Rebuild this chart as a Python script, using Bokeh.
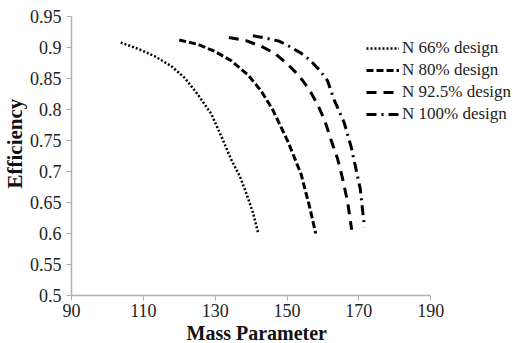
from bokeh.plotting import figure
from bokeh.models import FixedTicker, Legend, LegendItem, Range1d, Title
from bokeh.embed import file_html
from bokeh.resources import INLINE

# Data
series_names = ["N 66% design", "N 80% design", "N 92.5% design", "N 100% design"]

n66_x = [103.7, 108.5, 113.1, 117.8, 121.5, 125.2, 128.9, 131.7, 134.4, 136.8, 138.6, 140.5, 142.0]
n66_y = [0.908, 0.898, 0.886, 0.870, 0.851, 0.824, 0.793, 0.757, 0.720, 0.693, 0.666, 0.634, 0.600]

n80_x = [120.0, 125.2, 129.8, 134.4, 139.1, 142.8, 146.0, 150.2, 153.9, 156.2, 158.0]
n80_y = [0.912, 0.905, 0.894, 0.879, 0.856, 0.830, 0.800, 0.749, 0.696, 0.645, 0.600]

n925_x = [133.8, 138.6, 142.8, 146.5, 150.2, 153.4, 156.2, 158.5, 160.4, 162.2, 164.1, 165.5, 166.9, 168.0]
n925_y = [0.916, 0.911, 0.902, 0.891, 0.873, 0.854, 0.832, 0.808, 0.784, 0.752, 0.720, 0.688, 0.650, 0.606]

n100_x = [140.5, 144.2, 147.9, 150.6, 153.9, 156.5, 159.0, 161.3, 163.1, 165.9, 167.8, 169.2, 170.4, 171.1, 171.6]
n100_y = [0.919, 0.915, 0.910, 0.902, 0.891, 0.879, 0.864, 0.846, 0.816, 0.779, 0.741, 0.704, 0.672, 0.634, 0.610]

x_ticks = [90, 110, 130, 150, 170, 190]
y_ticks = [0.5, 0.55, 0.6, 0.65, 0.7, 0.75, 0.8, 0.85, 0.9, 0.95]
y_tick_labels = ["0.5", "0.55", "0.6", "0.65", "0.7", "0.75", "0.8", "0.85", "0.9", "0.95"]
x_title = "Mass Parameter"
y_title = "Efficiency"

FONT = "Liberation Serif"
X_MIN, X_MAX = 90, 190
PX_PER_UNIT = 3.6  # horizontal scale; frame is extended right to host the legend

p = figure(width=513, height=343, output_backend="svg", toolbar_location=None,
           x_range=Range1d(X_MIN, X_MIN + 443 / PX_PER_UNIT), y_range=Range1d(0.5, 0.95),
           min_border_left=70, min_border_right=0, min_border_top=16, min_border_bottom=46)
p.outline_line_color = None
p.xgrid.grid_line_color = None
p.ygrid.grid_line_color = None
p.background_fill_color = "white"
p.border_fill_color = "white"

styles = [
    dict(line_dash="2 2", line_width=2.5),
    dict(line_dash="7 3", line_width=3),
    dict(line_dash="10 7", line_width=3),
    dict(line_dash="10 5 2 5", line_width=3),
]
data = [(n66_x, n66_y), (n80_x, n80_y), (n925_x, n925_y), (n100_x, n100_y)]
items = []
for name, (xs, ys), st in zip(series_names, data, styles):
    r = p.line(xs, ys, line_color="black", **st)
    items.append(LegendItem(label=name, renderers=[r]))

legend = Legend(items=items, location=(295, 170), border_line_color=None,
                background_fill_alpha=0, label_text_font=FONT, label_text_font_size="17px",
                label_text_color="#222222", glyph_width=33, label_standoff=3,
                spacing=0, label_height=22, glyph_height=22, padding=0, margin=0)
p.add_layout(legend, "center")

for ax in (p.xaxis[0], p.yaxis[0]):
    ax.axis_line_color = "#b0b0b0"
    ax.axis_line_width = 1.5
    ax.major_tick_line_color = "#b0b0b0"
    ax.major_tick_out = 5
    ax.major_tick_in = 0
    ax.minor_tick_line_color = None
    ax.major_label_text_font = FONT
    ax.major_label_text_font_size = "18px"
    ax.major_label_text_color = "#222222"

p.xaxis.bounds = (X_MIN, X_MAX)
p.xaxis.ticker = FixedTicker(ticks=x_ticks)
p.yaxis.ticker = FixedTicker(ticks=y_ticks)
p.yaxis.major_label_overrides = {t: l for t, l in zip(y_ticks, y_tick_labels)}
p.xaxis.major_label_standoff = 3
p.yaxis.major_label_standoff = 5

# Axis titles placed as titles so they can be offset like in the reference
xt = Title(text=x_title, align="left", offset=115, text_font=FONT, text_font_style="bold",
           text_font_size="20px", text_color="#111111", standoff=0)
p.add_layout(xt, "below")
yt = Title(text=y_title, align="left", offset=107, text_font=FONT, text_font_style="bold",
           text_font_size="21px", text_color="#111111", standoff=0)
p.add_layout(yt, "left")

open("out.html", "w").write(file_html(p, INLINE))
